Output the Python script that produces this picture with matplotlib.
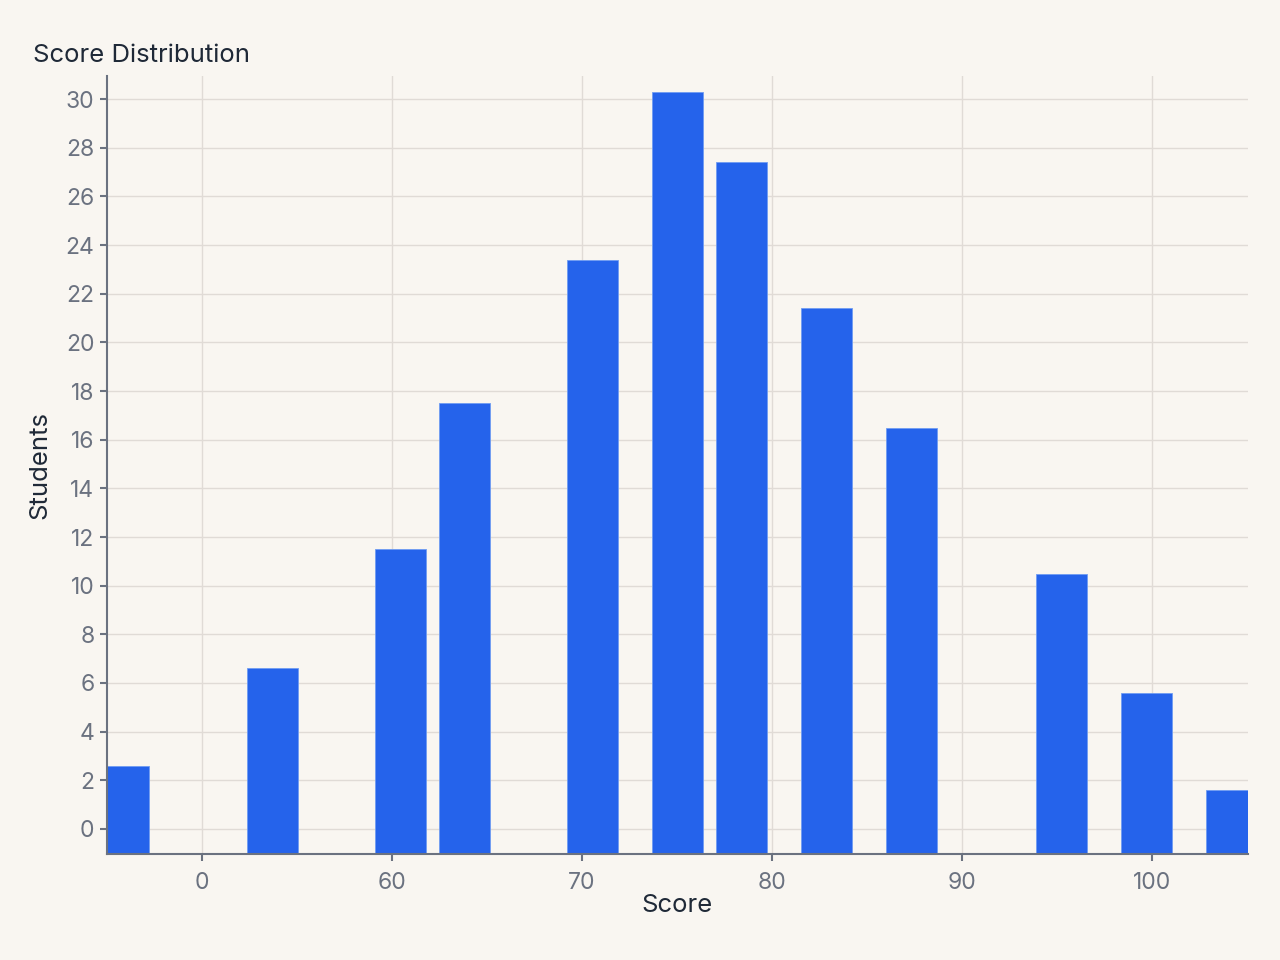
import matplotlib
matplotlib.use("Agg")
import matplotlib.pyplot as plt

plt.rcParams['font.family'] = ['Inter', 'DejaVu Sans']

# Data
bin_centers = [45.87, 53.7, 60.45, 63.8, 70.55, 75.03, 78.39, 82.87, 87.34, 95.24, 99.71, 104.18]
students = [2.6, 6.6, 11.5, 17.5, 23.4, 30.3, 27.4, 21.4, 16.5, 10.5, 5.6, 1.6]
x_ticks = [50, 60, 70, 80, 90, 100]
x_tick_labels = ["0", "60", "70", "80", "90", "100"]
y_ticks = list(range(0, 31, 2))

BG = "#f9f6f1"
GRID = "#e0dbd6"
AXIS = "#6b7280"
TEXT = "#1f2937"
BAR = "#2563eb"

fig = plt.figure(figsize=(12.8, 9.6), dpi=100, facecolor=BG)
ax = fig.add_axes([107/1280, 1-854/960, (1248-107)/1280, (854-76)/960])
ax.set_facecolor(BG)

ymin, ymax = -1.03, 30.95
ax.set_xlim(45, 105.05)
ax.set_ylim(ymin, ymax)

ax.bar(bin_centers, [s - ymin for s in students], bottom=ymin, width=2.68,
       color=BAR, edgecolor="#6f9cf2", linewidth=0.6, zorder=3)

ax.set_xticks(x_ticks)
ax.set_xticklabels(x_tick_labels)
ax.set_yticks(y_ticks)

ax.grid(True, color=GRID, linewidth=1.0, zorder=0)
ax.set_axisbelow(True)

for s in ['top', 'right']:
    ax.spines[s].set_visible(False)
for s in ['left', 'bottom']:
    ax.spines[s].set_color(AXIS)
    ax.spines[s].set_linewidth(1.5)
    ax.spines[s].set_zorder(4)

ax.tick_params(axis='both', colors=AXIS, labelcolor=AXIS, labelsize=16.5,
               length=5, width=1.5, direction='out')
ax.tick_params(axis='x', pad=8)
ax.tick_params(axis='y', pad=4)

ax.set_xlabel("Score", fontsize=18.5, color=TEXT, labelpad=0)
ax.set_ylabel("Students", fontsize=18.5, color=TEXT, labelpad=10)
fig.text(33/1280, 1-55/960, "Score Distribution", fontsize=18.5, color=TEXT,
         ha='left', va='center')

fig.savefig("out.png", dpi=100, facecolor=BG)
